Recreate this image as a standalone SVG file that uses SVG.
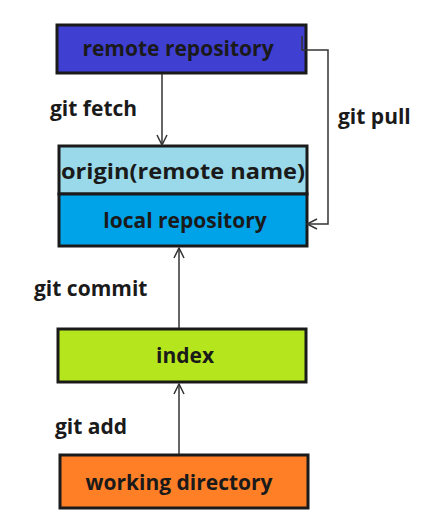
<svg xmlns="http://www.w3.org/2000/svg" width="425" height="515" viewBox="0 0 425 515">
<style>
.box{stroke:#1a1a1a;stroke-width:3}
.t{font-family:"Open Sans","DejaVu Sans",sans-serif;font-weight:bold;font-size:21px;fill:#1a1a1a;text-anchor:middle}
.l{font-family:"Open Sans","DejaVu Sans",sans-serif;font-weight:bold;font-size:21px;fill:#1a1a1a}
.c{fill:none;stroke:#333;stroke-width:1.5}
</style>
<defs>
<marker id="a" viewBox="0 0 12 12" refX="11" refY="6" markerWidth="12" markerHeight="12" markerUnits="userSpaceOnUse" orient="auto">
<path d="M1,1 L11,6 L1,11" fill="none" stroke="#333" stroke-width="1.5"/>
</marker>
</defs>
<rect width="425" height="515" fill="#fff"/>
<g id="remote">
<rect class="box" x="57" y="25" width="249" height="48" fill="#3f3fd2" stroke="#444"/>
<text class="t" x="178" y="56">remote repository</text>
</g>
<g id="origin">
<rect class="box" x="59" y="146" width="248" height="48" fill="#99d9ea" stroke="#444"/>
<text class="t" x="183" y="179" textLength="244" lengthAdjust="spacingAndGlyphs">origin(remote name)</text>
</g>
<g id="local">
<rect class="box" x="59" y="194" width="248" height="52" fill="#00a2e8"/>
<text class="t" x="185" y="228">local repository</text>
</g>
<g id="index">
<rect class="box" x="58" y="329" width="248" height="53" fill="#b5e61d"/>
<text class="t" x="185" y="363">index</text>
</g>
<g id="working">
<rect class="box" x="60" y="455" width="248" height="53" fill="#ff7f27"/>
<text class="t" x="179" y="490">working directory</text>
</g>
<g id="connectors">
<line class="c" x1="162" y1="74" x2="162" y2="145" marker-end="url(#a)"/>
<path class="c" d="M302,36 V50 H328 V224 H307" marker-end="url(#a)"/>
<line class="c" x1="179" y1="328" x2="179" y2="248" marker-end="url(#a)"/>
<line class="c" x1="179" y1="454" x2="179" y2="384" marker-end="url(#a)"/>
</g>
<g id="labels">
<text class="l" x="50" y="116">git fetch</text>
<text class="l" x="338" y="124">git pull</text>
<text class="l" x="34" y="296">git commit</text>
<text class="l" x="55" y="434">git add</text>
</g>
</svg>
